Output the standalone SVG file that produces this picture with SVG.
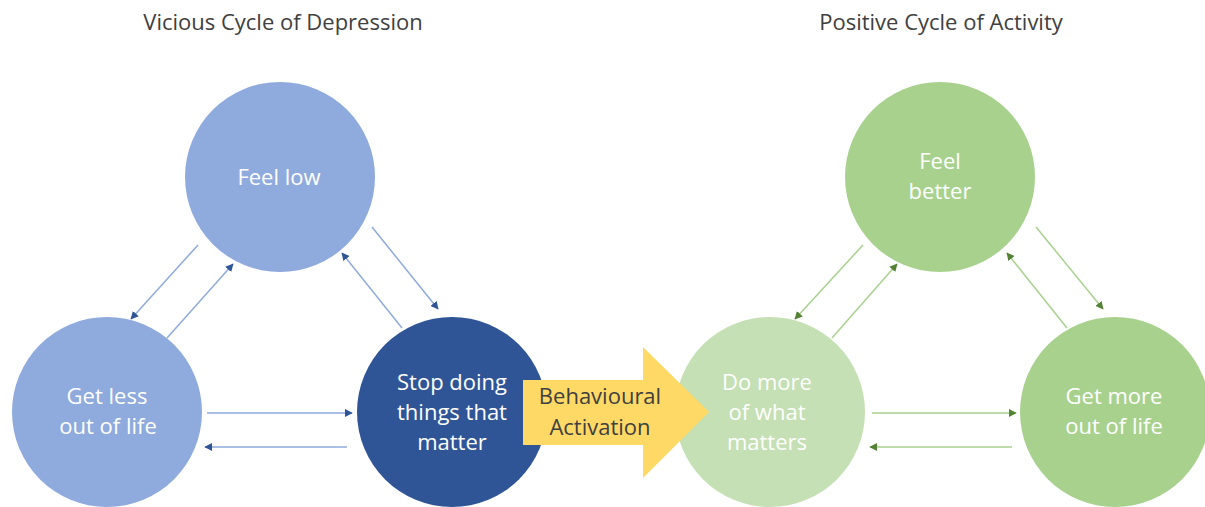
<svg xmlns="http://www.w3.org/2000/svg" width="1205" height="507" viewBox="0 0 1205 507">
<style>
.title{font-family:"Open Sans","Liberation Sans",sans-serif;font-size:22px;fill:#404040;text-anchor:middle}
.lbl{font-family:"Open Sans","Liberation Sans",sans-serif;font-size:22px;fill:#ffffff;text-anchor:middle}
.ba{font-family:"Open Sans","Liberation Sans",sans-serif;font-size:22px;fill:#404040;text-anchor:middle}
.bl{stroke:#8faadc;stroke-width:1.5;fill:none;marker-end:url(#mb)}
.gr{stroke:#a9d18e;stroke-width:1.5;fill:none;marker-end:url(#mg)}
</style>
<defs>
<marker id="mb" viewBox="0 0 10 10" refX="9" refY="5" markerWidth="8" markerHeight="8" markerUnits="userSpaceOnUse" orient="auto"><path d="M0,0 L10,5 L0,10 z" fill="#2f5597"/></marker>
<marker id="mg" viewBox="0 0 10 10" refX="9" refY="5" markerWidth="8" markerHeight="8" markerUnits="userSpaceOnUse" orient="auto"><path d="M0,0 L10,5 L0,10 z" fill="#548235"/></marker>
</defs>
<rect width="1205" height="507" fill="#ffffff"/>
<text class="title" x="283" y="30">Vicious Cycle of Depression</text>
<text class="title" x="941" y="30">Positive Cycle of Activity</text>
<g id="feel-low"><circle cx="280" cy="177" r="95" fill="#8faadc"/><text class="lbl" x="279" y="185">Feel low</text></g>
<g id="get-less"><circle cx="107" cy="412" r="95" fill="#8faadc"/><text class="lbl" x="107" y="404">Get less</text><text class="lbl" x="108" y="434">out of life</text></g>
<g id="stop-doing"><circle cx="452" cy="412" r="95" fill="#2f5597"/><text class="lbl" x="452" y="390">Stop doing</text><text class="lbl" x="452" y="420">things that</text><text class="lbl" x="452" y="450">matter</text></g>
<g id="do-more"><circle cx="770" cy="412" r="95" fill="#c5e0b4"/><text class="lbl" x="767" y="390">Do more</text><text class="lbl" x="767" y="420">of what</text><text class="lbl" x="767" y="450">matters</text></g>
<g id="get-more"><circle cx="1115" cy="412" r="95" fill="#a9d18e"/><text class="lbl" x="1114" y="404">Get more</text><text class="lbl" x="1114" y="434">out of life</text></g>
<g id="feel-better"><circle cx="940" cy="177" r="95" fill="#a9d18e"/><text class="lbl" x="940" y="169">Feel</text><text class="lbl" x="940" y="199">better</text></g>
<g id="behavioural-activation"><path d="M523,380 H643 V347 L709,412 L643,478 V445 H523 z" fill="#ffd966"/><text class="ba" x="600" y="404">Behavioural</text><text class="ba" x="600" y="435">Activation</text></g>
<g id="connectors">
<line class="bl" x1="198" y1="245" x2="131" y2="319"/>
<line class="bl" x1="167" y1="338" x2="233" y2="264"/>
<line class="bl" x1="402" y1="328" x2="342" y2="253"/>
<line class="bl" x1="372" y1="227" x2="438" y2="309"/>
<line class="bl" x1="207" y1="413" x2="352" y2="413"/>
<line class="bl" x1="347" y1="447" x2="205" y2="447"/>
<line class="gr" x1="863" y1="245" x2="795" y2="319"/>
<line class="gr" x1="832" y1="338" x2="897" y2="264"/>
<line class="gr" x1="1067" y1="328" x2="1007" y2="253"/>
<line class="gr" x1="1036" y1="227" x2="1103" y2="309"/>
<line class="gr" x1="872" y1="413" x2="1016" y2="413"/>
<line class="gr" x1="1012" y1="447" x2="870" y2="447"/>
</g>
</svg>
